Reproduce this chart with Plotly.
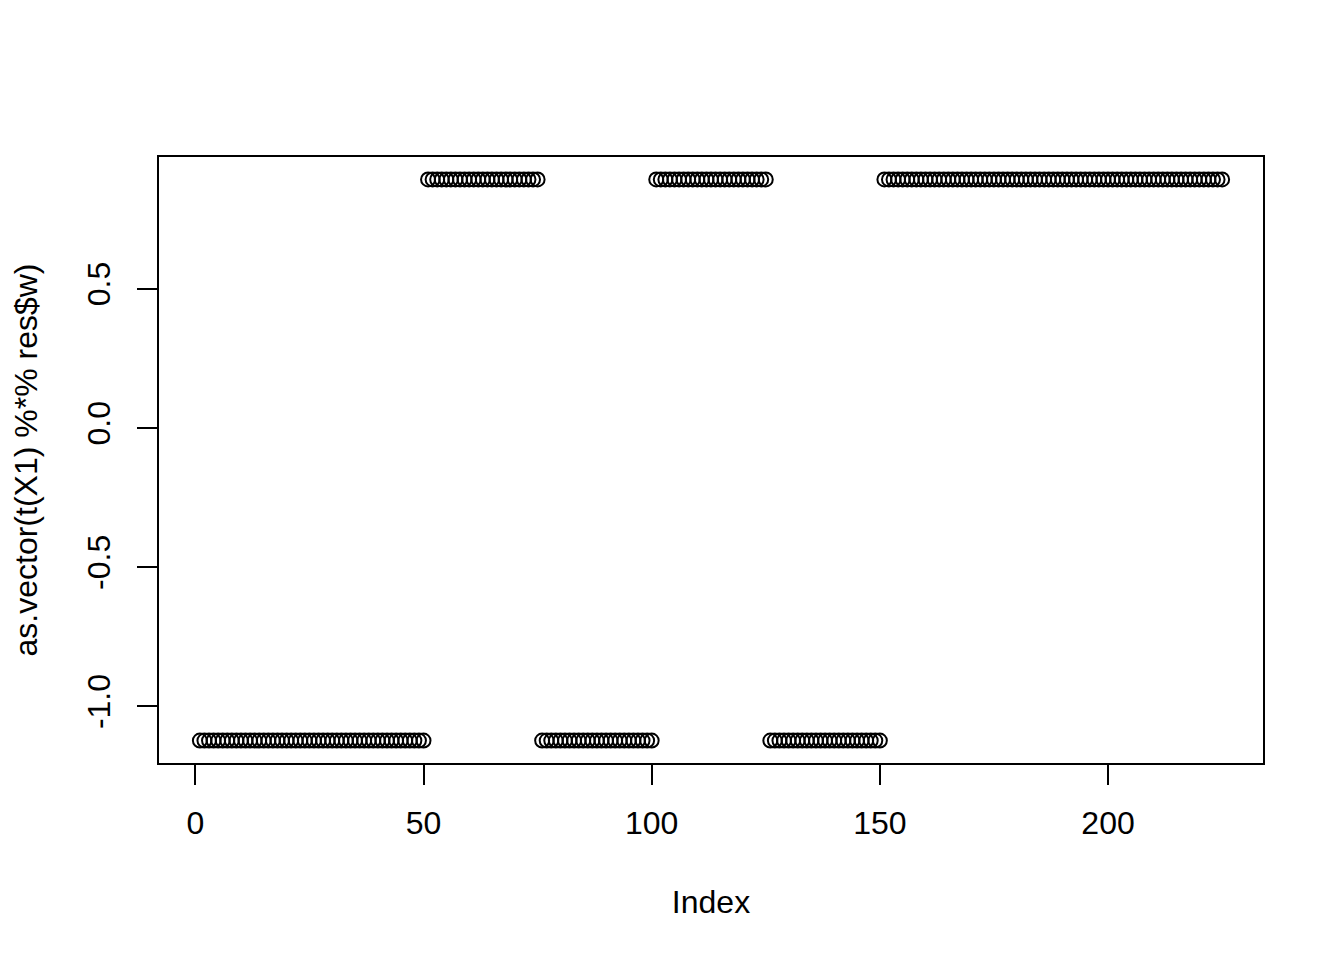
import plotly.graph_objects as go

# Segment values (constant runs of points)
seg_values = [-1.123, 0.893, -1.123, 0.893, -1.123, 0.893]
seg_lengths = [50, 25, 25, 25, 25, 75]

y = []
for v, n in zip(seg_values, seg_lengths):
    y.extend([v] * n)
x = list(range(1, len(y) + 1))

x_ticks = [0, 50, 100, 150, 200]
y_ticks = [-1.0, -0.5, 0.0, 0.5]
y_tick_text = ["-1.0", "-0.5", "0.0", "0.5"]

FONT = "Liberation Sans, Arial, Helvetica, sans-serif"
FS = 32

fig = go.Figure(
    go.Scatter(
        x=x, y=y, mode="markers",
        marker=dict(symbol="circle-open", size=14, color="black",
                    line=dict(width=2, color="black")),
        showlegend=False, hoverinfo="skip",
    )
)

xmin, xmax = min(x), max(x)
ymin, ymax = min(y), max(y)
dx = (xmax - xmin) * 0.04
dy = (ymax - ymin) * 0.04

fig.update_layout(
    width=1328, height=944,
    margin=dict(l=149, r=73, t=149, b=189),
    paper_bgcolor="white", plot_bgcolor="white",
    font=dict(family=FONT, size=FS, color="black"),
    xaxis=dict(
        range=[xmin - dx, xmax + dx],
        tickmode="array", tickvals=x_ticks, ticktext=[str(t) for t in x_ticks],
        ticks="outside", ticklen=20, tickwidth=1.8, tickcolor="black",
        showline=True, linecolor="black", linewidth=1.8, mirror=True,
        showgrid=False, zeroline=False,
        ticklabelstandoff=11,
        title=dict(text="Index", font=dict(size=FS), standoff=50),
    ),
    yaxis=dict(
        range=[ymin - dy, ymax + dy],
        tickmode="array", tickvals=y_ticks, ticktext=y_tick_text,
        tickangle=-90,
        ticks="outside", ticklen=20, tickwidth=1.8, tickcolor="black",
        showline=True, linecolor="black", linewidth=1.8, mirror=True,
        showgrid=False, zeroline=False,
        ticklabelstandoff=14,
        title=dict(text="as.vector(t(X1) %*% res$w)", font=dict(size=FS), standoff=39),
    ),
)

fig.write_html("out.html")
